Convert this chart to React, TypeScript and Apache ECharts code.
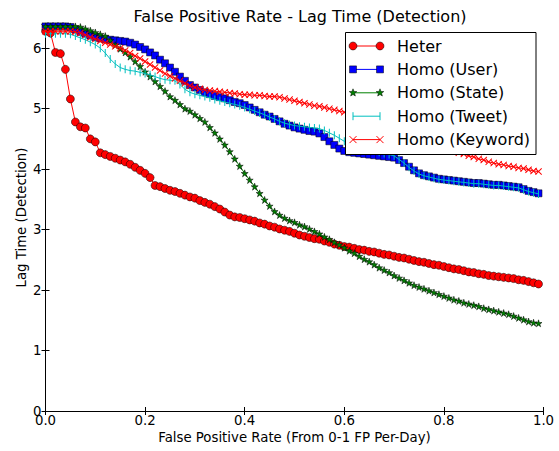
import React, { useEffect, useRef } from 'react';
import * as echarts from 'echarts';

const FONT = '"DejaVu Sans", sans-serif';

const fpr = [
  0.00, 0.01, 0.02, 0.03, 0.04, 0.05, 0.06, 0.07, 0.08, 0.09,
  0.10, 0.11, 0.12, 0.13, 0.14, 0.15, 0.16, 0.17, 0.18, 0.19,
  0.20, 0.21, 0.22, 0.23, 0.24, 0.25, 0.26, 0.27, 0.28, 0.29,
  0.30, 0.31, 0.32, 0.33, 0.34, 0.35, 0.36, 0.37, 0.38, 0.39,
  0.40, 0.41, 0.42, 0.43, 0.44, 0.45, 0.46, 0.47, 0.48, 0.49,
  0.50, 0.51, 0.52, 0.53, 0.54, 0.55, 0.56, 0.57, 0.58, 0.59,
  0.60, 0.61, 0.62, 0.63, 0.64, 0.65, 0.66, 0.67, 0.68, 0.69,
  0.70, 0.71, 0.72, 0.73, 0.74, 0.75, 0.76, 0.77, 0.78, 0.79,
  0.80, 0.81, 0.82, 0.83, 0.84, 0.85, 0.86, 0.87, 0.88, 0.89,
  0.90, 0.91, 0.92, 0.93, 0.94, 0.95, 0.96, 0.97, 0.98, 0.99,
];

const heter = [
  6.28, 6.25, 5.93, 5.91, 5.65, 5.16, 4.78, 4.70, 4.68, 4.50,
  4.45, 4.27, 4.24, 4.21, 4.18, 4.15, 4.12, 4.08, 4.03, 3.98,
  3.93, 3.86, 3.73, 3.71, 3.68, 3.65, 3.63, 3.60, 3.57, 3.54,
  3.52, 3.48, 3.45, 3.42, 3.38, 3.34, 3.29, 3.24, 3.21, 3.20,
  3.18, 3.16, 3.14, 3.11, 3.09, 3.06, 3.04, 3.01, 2.99, 2.97,
  2.94, 2.91, 2.89, 2.87, 2.85, 2.84, 2.81, 2.79, 2.76, 2.74,
  2.72, 2.71, 2.69, 2.67, 2.66, 2.64, 2.63, 2.61, 2.59, 2.58,
  2.56, 2.54, 2.53, 2.51, 2.49, 2.47, 2.46, 2.44, 2.42, 2.41,
  2.39, 2.37, 2.35, 2.34, 2.32, 2.30, 2.29, 2.27, 2.26, 2.24,
  2.23, 2.22, 2.21, 2.20, 2.19, 2.17, 2.16, 2.14, 2.12, 2.10,
];

const homoUser = [
  6.36, 6.36, 6.36, 6.36, 6.36, 6.35, 6.31, 6.27, 6.24, 6.21,
  6.18, 6.16, 6.15, 6.14, 6.13, 6.12, 6.11, 6.09, 6.06, 6.02,
  5.98, 5.93, 5.88, 5.81, 5.75, 5.68, 5.61, 5.53, 5.46, 5.39,
  5.35, 5.31, 5.27, 5.24, 5.21, 5.19, 5.17, 5.14, 5.11, 5.09,
  5.06, 5.02, 4.98, 4.94, 4.90, 4.87, 4.83, 4.79, 4.75, 4.72,
  4.69, 4.67, 4.65, 4.63, 4.62, 4.59, 4.53, 4.46, 4.40, 4.34,
  4.30, 4.28, 4.27, 4.26, 4.25, 4.24, 4.23, 4.22, 4.21, 4.20,
  4.19, 4.15, 4.10, 4.04, 3.98, 3.93, 3.90, 3.88, 3.86, 3.84,
  3.83, 3.82, 3.81, 3.80, 3.79, 3.78, 3.77, 3.77, 3.76, 3.75,
  3.74, 3.74, 3.73, 3.72, 3.71, 3.70, 3.67, 3.64, 3.62, 3.60,
];

const homoState = [
  6.36, 6.36, 6.36, 6.36, 6.36, 6.36, 6.36, 6.35, 6.32, 6.29,
  6.26, 6.23, 6.20, 6.13, 6.05, 5.99, 5.93, 5.86, 5.78, 5.70,
  5.61, 5.53, 5.45, 5.37, 5.29, 5.20, 5.14, 5.07, 5.00, 4.96,
  4.90, 4.84, 4.78, 4.69, 4.60, 4.50, 4.40, 4.29, 4.17, 4.05,
  3.93, 3.82, 3.71, 3.60, 3.49, 3.39, 3.30, 3.24, 3.19, 3.15,
  3.12, 3.08, 3.05, 3.01, 2.97, 2.93, 2.88, 2.84, 2.79, 2.75,
  2.70, 2.65, 2.61, 2.56, 2.51, 2.47, 2.42, 2.37, 2.33, 2.29,
  2.24, 2.20, 2.16, 2.12, 2.08, 2.05, 2.02, 1.99, 1.96, 1.93,
  1.90, 1.87, 1.84, 1.82, 1.79, 1.77, 1.75, 1.73, 1.70, 1.68,
  1.66, 1.64, 1.62, 1.60, 1.57, 1.54, 1.51, 1.48, 1.46, 1.45,
];

const homoTweet = [
  6.24, 6.24, 6.24, 6.24, 6.24, 6.23, 6.20, 6.17, 6.14, 6.10,
  6.06, 6.00, 5.92, 5.82, 5.74, 5.68, 5.65, 5.63, 5.62, 5.60,
  5.58, 5.56, 5.53, 5.50, 5.48, 5.47, 5.46, 5.40, 5.32, 5.27,
  5.24, 5.22, 5.20, 5.18, 5.15, 5.13, 5.11, 5.09, 5.07, 5.05,
  5.02, 4.99, 4.96, 4.93, 4.90, 4.86, 4.83, 4.79, 4.76, 4.74,
  4.72, 4.71, 4.70, 4.69, 4.68, 4.67, 4.64, 4.60, 4.56, 4.51,
  4.46, 4.43, 4.40, 4.37, 4.34, 4.32, 4.30, 4.28, 4.26, 4.24,
  4.22, 4.16, 4.10, 4.03, 3.97, 3.92, 3.89, 3.87, 3.85, 3.83,
  3.82, 3.81, 3.80, 3.79, 3.78, 3.77, 3.76, 3.76, 3.75, 3.74,
  3.73, 3.73, 3.72, 3.71, 3.70, 3.69, 3.66, 3.63, 3.61, 3.59,
];

const homoKeyword = [
  6.28, 6.28, 6.28, 6.28, 6.28, 6.28, 6.27, 6.25, 6.22, 6.18,
  6.15, 6.12, 6.09, 6.06, 6.03, 6.00, 5.96, 5.92, 5.87, 5.83,
  5.78, 5.73, 5.68, 5.63, 5.58, 5.54, 5.50, 5.46, 5.42, 5.38,
  5.35, 5.33, 5.31, 5.30, 5.29, 5.28, 5.27, 5.26, 5.25, 5.24,
  5.23, 5.23, 5.22, 5.22, 5.21, 5.20, 5.20, 5.19, 5.17, 5.15,
  5.13, 5.11, 5.09, 5.07, 5.05, 5.04, 5.02, 5.00, 4.98, 4.96,
  4.94, 4.91, 4.88, 4.85, 4.82, 4.79, 4.76, 4.73, 4.70, 4.67,
  4.64, 4.61, 4.58, 4.55, 4.52, 4.49, 4.46, 4.43, 4.40, 4.37,
  4.35, 4.32, 4.29, 4.27, 4.25, 4.22, 4.20, 4.17, 4.15, 4.12,
  4.10, 4.08, 4.07, 4.05, 4.04, 4.02, 4.01, 3.99, 3.97, 3.96,
];

const seriesNames = ['Heter', 'Homo (User)', 'Homo (State)', 'Homo (Tweet)', 'Homo (Keyword)'];
const seriesColors = ['#ff0000', '#0000ff', '#008000', '#00bfbf', '#ff0000'];

const STAR = 'path://M50,0L61.2,34.5L97.6,34.5L68.2,55.9L79.4,90.5L50,69.1L20.6,90.5L31.8,55.9L2.4,34.5L38.8,34.5Z';
const VBAR = 'path://M0,0L1,0L1,10L0,10Z';
const XMARK = 'path://M0,1L1,0L5,4L9,0L10,1L6,5L10,9L9,10L5,6L1,10L0,9L4,5Z';

function pairs(ys: number[]) {
  return fpr.map((x, i) => [x, ys[i]]);
}

function buildLegend() {
  const left = 345.5;
  const top = 32.5;
  const w = 190.5;
  const h = 122;
  const x1 = 353;
  const x2 = 380;
  const tx = 397;
  const y0 = 46;
  const step = 23.4;
  const Z = 100;
  const els: any[] = [
    {
      type: 'rect', z: Z,
      shape: { x: left, y: top, width: w, height: h },
      style: { fill: '#fff', stroke: '#000', lineWidth: 1 },
    },
  ];
  seriesNames.forEach((name, i) => {
    const y = y0 + i * step;
    const c = seriesColors[i];
    els.push({
      type: 'line', z: Z + 1,
      shape: { x1, y1: y, x2, y2: y },
      style: { stroke: c, lineWidth: 1 },
    });
    [x1, x2].forEach((mx) => {
      if (i === 0) {
        els.push({ type: 'circle', z: Z + 2, shape: { cx: mx, cy: y, r: 4 }, style: { fill: c, stroke: '#000', lineWidth: 0.5 } });
      } else if (i === 1) {
        els.push({ type: 'rect', z: Z + 2, shape: { x: mx - 3.5, y: y - 3.5, width: 7, height: 7 }, style: { fill: c, stroke: '#000', lineWidth: 0.5 } });
      } else if (i === 2) {
        const pts: number[][] = [];
        for (let k = 0; k < 10; k++) {
          const r = k % 2 === 0 ? 4 : 1.7;
          const a = -Math.PI / 2 + (k * Math.PI) / 5;
          pts.push([mx + r * Math.cos(a), y + r * Math.sin(a)]);
        }
        els.push({ type: 'polygon', z: Z + 2, shape: { points: pts }, style: { fill: c, stroke: '#000', lineWidth: 0.5 } });
      } else if (i === 3) {
        els.push({ type: 'line', z: Z + 2, shape: { x1: mx, y1: y - 4, x2: mx, y2: y + 4 }, style: { stroke: c, lineWidth: 1 } });
      } else {
        els.push({ type: 'line', z: Z + 2, shape: { x1: mx - 3.5, y1: y - 3.5, x2: mx + 3.5, y2: y + 3.5 }, style: { stroke: c, lineWidth: 1 } });
        els.push({ type: 'line', z: Z + 2, shape: { x1: mx - 3.5, y1: y + 3.5, x2: mx + 3.5, y2: y - 3.5 }, style: { stroke: c, lineWidth: 1 } });
      }
    });
    els.push({
      type: 'text', z: Z + 2,
      x: tx,
      y,
      style: { text: name, fill: '#000', font: `16px ${FONT}`, verticalAlign: 'middle', align: 'left' },
    });
  });
  return els;
}

export default function App() {
  const ref = useRef<HTMLDivElement>(null);
  useEffect(() => {
    if (!ref.current) return;
    const chart = echarts.init(ref.current, undefined, { renderer: 'svg' });
    const axisLine = { show: true, lineStyle: { color: '#000', width: 1 } };
    const tick = { show: true, inside: true, length: 4, lineStyle: { color: '#000', width: 1 } };
    const labelStyle = { color: '#000', fontSize: 13.3, fontFamily: FONT };
    const mk = (i: number, ys: number[], symbol: string, size: any, extra: any = {}) => ({
      type: 'line',
      name: seriesNames[i],
      data: pairs(ys),
      symbol,
      symbolSize: size,
      showSymbol: true,
      showAllSymbol: true,
      lineStyle: { color: seriesColors[i], width: 1 },
      itemStyle: { color: seriesColors[i], borderColor: '#000', borderWidth: 0.5, ...extra },
      z: 2 + i,
    });
    chart.setOption({
      animation: false,
      backgroundColor: '#fff',
      title: {
        text: 'False Positive Rate - Lag Time (Detection)',
        left: 295,
        top: 3,
        textAlign: 'center',
        textStyle: { fontSize: 16, fontWeight: 'normal', color: '#000', fontFamily: FONT },
      },
      grid: { left: 45.5, top: 24, width: 498, height: 387, containLabel: false },
      xAxis: [
        {
          type: 'value', min: 0, max: 1, interval: 0.2, position: 'bottom',
          axisLine, axisTick: tick, splitLine: { show: false },
          axisLabel: { ...labelStyle, margin: 3, formatter: (v: number) => v.toFixed(1) },
          name: 'False Positive Rate (From 0-1 FP Per-Day)',
          nameLocation: 'middle', nameGap: 20, nameMoveOverlap: false,
          nameTextStyle: { ...labelStyle },
        },
        {
          type: 'value', min: 0, max: 1, interval: 0.2, position: 'top',
          axisLine, axisTick: tick, splitLine: { show: false }, axisLabel: { show: false },
        },
      ],
      yAxis: [
        {
          type: 'value', min: 0, max: 6.4, interval: 1, position: 'left',
          axisLine, axisTick: tick, splitLine: { show: false },
          axisLabel: { ...labelStyle, margin: 4, showMaxLabel: false, formatter: (v: number) => (Number.isInteger(v) ? String(v) : '') },
          name: 'Lag Time (Detection)', nameLocation: 'middle', nameGap: 18, nameRotate: 90, nameMoveOverlap: false,
          nameTextStyle: { ...labelStyle },
        },
        {
          type: 'value', min: 0, max: 6.4, interval: 1, position: 'right',
          axisLine, axisTick: tick, splitLine: { show: false }, axisLabel: { show: false },
        },
      ],
      series: [
        mk(0, heter, 'circle', 8),
        mk(1, homoUser, 'rect', 7),
        mk(2, homoState, STAR, 7),
        mk(3, homoTweet, VBAR, [1, 8], { borderWidth: 0 }),
        mk(4, homoKeyword, XMARK, 7, { borderWidth: 0 }),
      ],
      graphic: { elements: buildLegend() },
    });
    return () => chart.dispose();
  }, []);
  return <div ref={ref} style={{ position: 'fixed', left: 0, top: 0, width: 559, height: 451 }} />;
}
